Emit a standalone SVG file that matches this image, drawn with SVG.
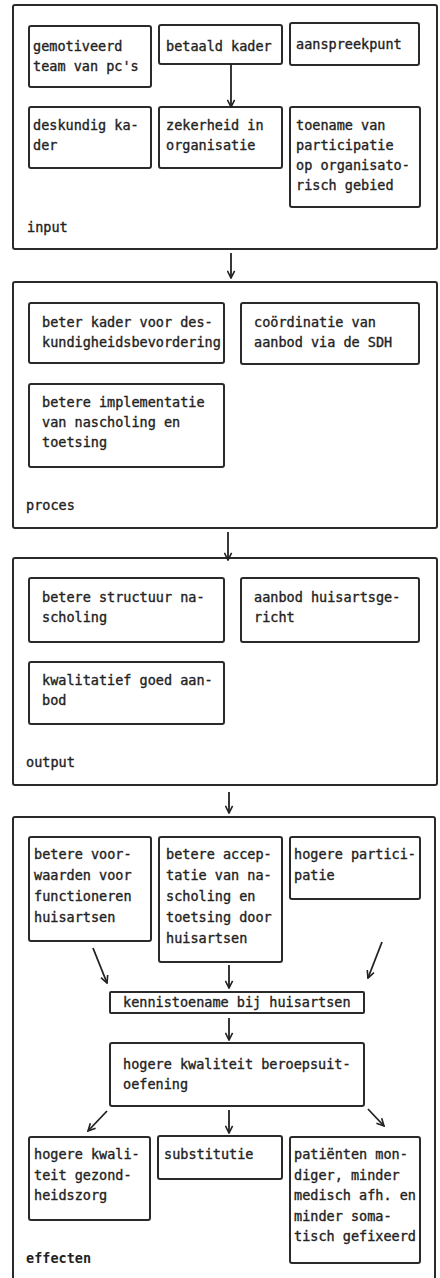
<svg xmlns="http://www.w3.org/2000/svg" width="440" height="1278" viewBox="0 0 440 1278">
  <style>
    .frame { fill: none; stroke: #2a2a2a; stroke-width: 2; }
    .box { fill: #fff; stroke: #2a2a2a; stroke-width: 2; }
    text { font-family: "DejaVu Sans Mono", "Liberation Mono", monospace; font-size: 13.5px; fill: #222; stroke: #222; stroke-width: 0.35; }
    .bold { font-weight: bold; stroke-width: 0; }
    .conn { fill: none; stroke: #222; stroke-width: 1.8; marker-end: url(#ah); }
  </style>
  <defs>
    <marker id="ah" viewBox="0 0 10 10" refX="9" refY="5" markerWidth="9" markerHeight="9" markerUnits="userSpaceOnUse" orient="auto">
      <path d="M1,1 L9,5 L1,9" fill="none" stroke="#222" stroke-width="1.8"/>
    </marker>
  </defs>
  <rect width="440" height="1278" fill="#fff"/>

  <!-- input -->
  <g id="input">
    <rect class="frame" x="13" y="5" width="424" height="244" rx="2"/>
    <text x="27" y="232">input</text>
  </g>
  <g id="team">
    <rect class="box" x="29" y="26" width="122" height="61" rx="2"/>
    <text x="33" y="51">gemotiveerd<tspan x="33" dy="20">team van pc's</tspan></text>
  </g>
  <g id="betaald-kader">
    <rect class="box" x="159" y="25" width="123" height="39" rx="2"/>
    <text x="166" y="51">betaald kader</text>
  </g>
  <g id="aanspreekpunt">
    <rect class="box" x="290" y="23" width="129" height="42" rx="2"/>
    <text x="296" y="49">aanspreekpunt</text>
  </g>
  <g id="deskundig-kader">
    <rect class="box" x="29" y="107" width="122" height="61" rx="2"/>
    <text x="33" y="130">deskundig ka-<tspan x="33" dy="20">der</tspan></text>
  </g>
  <g id="zekerheid">
    <rect class="box" x="159" y="107" width="123" height="61" rx="2"/>
    <text x="166" y="130">zekerheid in<tspan x="166" dy="20">organisatie</tspan></text>
  </g>
  <g id="toename-participatie">
    <rect class="box" x="290" y="107" width="130" height="100" rx="2"/>
    <text x="296" y="130">toename van<tspan x="296" dy="20">participatie</tspan><tspan x="296" dy="20">op organisato-</tspan><tspan x="296" dy="20">risch gebied</tspan></text>
  </g>

  <!-- proces -->
  <g id="proces">
    <rect class="frame" x="13" y="282" width="424" height="246" rx="2"/>
    <text x="26" y="510">proces</text>
  </g>
  <g id="beter-kader">
    <rect class="box" x="29" y="303" width="195" height="60" rx="2"/>
    <text x="42" y="327">beter kader voor des-<tspan x="42" dy="20">kundigheidsbevordering</tspan></text>
  </g>
  <g id="coordinatie">
    <rect class="box" x="241" y="303" width="178" height="61" rx="2"/>
    <text x="254" y="327">coördinatie van<tspan x="254" dy="20">aanbod via de SDH</tspan></text>
  </g>
  <g id="implementatie">
    <rect class="box" x="29" y="384" width="195" height="83" rx="2"/>
    <text x="42" y="407">betere implementatie<tspan x="42" dy="20">van nascholing en</tspan><tspan x="42" dy="20">toetsing</tspan></text>
  </g>

  <!-- output -->
  <g id="output">
    <rect class="frame" x="13" y="558" width="424" height="227" rx="2"/>
    <text x="26" y="767">output</text>
  </g>
  <g id="structuur">
    <rect class="box" x="29" y="578" width="195" height="64" rx="2"/>
    <text x="42" y="602">betere structuur na-<tspan x="42" dy="20">scholing</tspan></text>
  </g>
  <g id="aanbod">
    <rect class="box" x="241" y="578" width="178" height="64" rx="2"/>
    <text x="254" y="602">aanbod huisartsge-<tspan x="254" dy="20">richt</tspan></text>
  </g>
  <g id="kwalitatief">
    <rect class="box" x="29" y="662" width="195" height="62" rx="2"/>
    <text x="42" y="685">kwalitatief goed aan-<tspan x="42" dy="20">bod</tspan></text>
  </g>

  <!-- effecten -->
  <g id="effecten">
    <rect class="frame" x="13" y="817" width="422" height="480" rx="2"/>
    <text class="bold" x="26" y="1263">effecten</text>
  </g>
  <g id="voorwaarden">
    <rect class="box" x="29" y="837" width="122" height="104" rx="2"/>
    <text x="34" y="859">betere voor-<tspan x="34" dy="21">waarden voor</tspan><tspan x="34" dy="21">functioneren</tspan><tspan x="34" dy="21">huisartsen</tspan></text>
  </g>
  <g id="acceptatie">
    <rect class="box" x="159" y="837" width="123" height="125" rx="2"/>
    <text x="166" y="859">betere accep-<tspan x="166" dy="21">tatie van na-</tspan><tspan x="166" dy="21">scholing en</tspan><tspan x="166" dy="21">toetsing door</tspan><tspan x="166" dy="21">huisartsen</tspan></text>
  </g>
  <g id="hogere-participatie">
    <rect class="box" x="290" y="837" width="130" height="62" rx="2"/>
    <text x="294" y="859">hogere partici-<tspan x="294" dy="21">patie</tspan></text>
  </g>
  <g id="kennistoename">
    <rect class="box" x="110" y="992" width="254" height="21" rx="1"/>
    <text x="123" y="1007">kennistoename bij huisartsen</text>
  </g>
  <g id="beroepsuitoefening">
    <rect class="box" x="110" y="1043" width="254" height="63" rx="2"/>
    <text x="123" y="1069">hogere kwaliteit beroepsuit-<tspan x="123" dy="20">oefening</tspan></text>
  </g>
  <g id="gezondheidszorg">
    <rect class="box" x="29" y="1137" width="121" height="83" rx="2"/>
    <text x="34" y="1159">hogere kwali-<tspan x="34" dy="20.5">teit gezond-</tspan><tspan x="34" dy="20.5">heidszorg</tspan></text>
  </g>
  <g id="substitutie">
    <rect class="box" x="158" y="1136" width="124" height="43" rx="2"/>
    <text x="164" y="1159">substitutie</text>
  </g>
  <g id="patienten">
    <rect class="box" x="290" y="1137" width="130" height="126" rx="2"/>
    <text x="294" y="1159">patiënten mon-<tspan x="294" dy="20.5">diger, minder</tspan><tspan x="294" dy="20.5">medisch afh. en</tspan><tspan x="294" dy="20.5">minder soma-</tspan><tspan x="294" dy="20.5">tisch gefixeerd</tspan></text>
  </g>

  <!-- connectors -->
  <g id="connectors">
    <line class="conn" x1="231" y1="64" x2="231" y2="107"/>
    <line class="conn" x1="231" y1="253" x2="231" y2="278"/>
    <line class="conn" x1="228" y1="532" x2="228" y2="560"/>
    <line class="conn" x1="229" y1="792" x2="229" y2="813"/>
    <line class="conn" x1="93" y1="948" x2="107" y2="983"/>
    <line class="conn" x1="229" y1="965" x2="229" y2="988"/>
    <line class="conn" x1="382" y1="942" x2="368" y2="978"/>
    <line class="conn" x1="229" y1="1018" x2="229" y2="1040"/>
    <line class="conn" x1="107" y1="1111" x2="88" y2="1131"/>
    <line class="conn" x1="229" y1="1110" x2="229" y2="1133"/>
    <line class="conn" x1="368" y1="1109" x2="384" y2="1126"/>
  </g>
</svg>
